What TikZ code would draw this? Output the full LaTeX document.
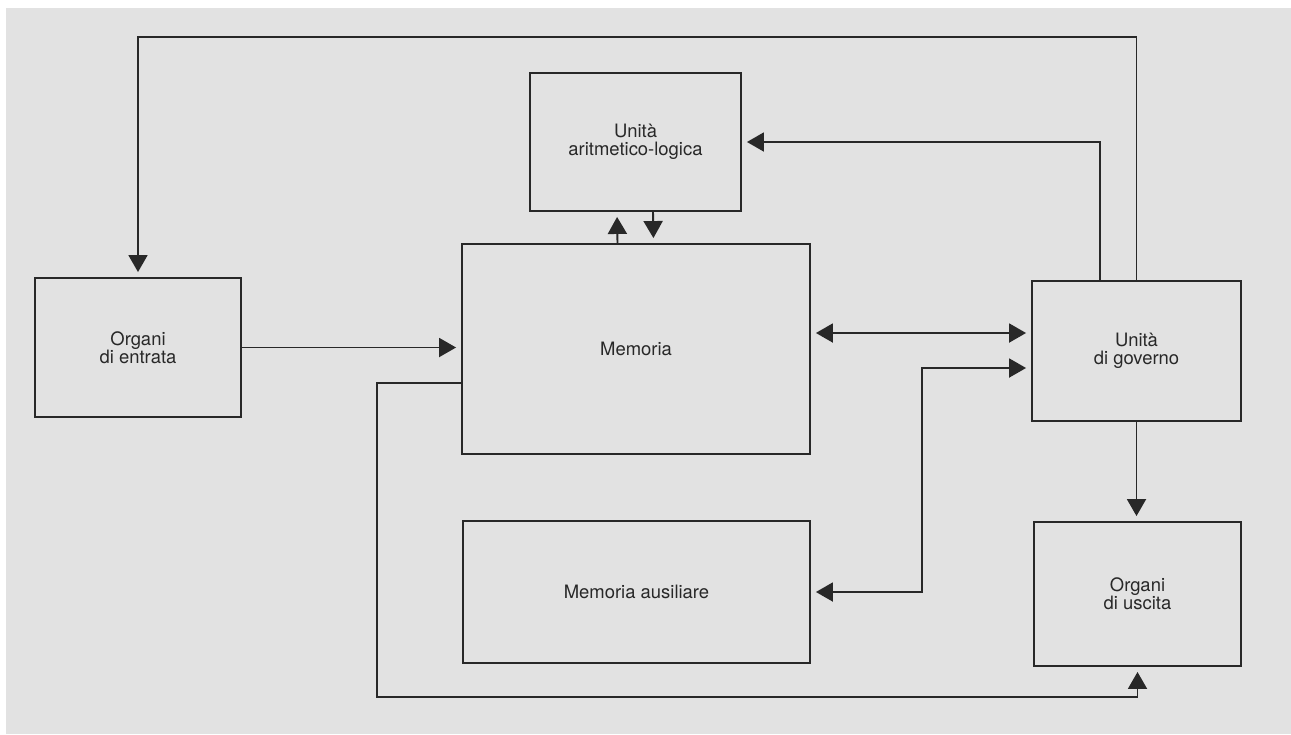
\documentclass[tikz,border=0pt]{standalone}
\usepackage{fontspec}
\setmainfont{TeX Gyre Heros}
\usepackage{tikz}
\usetikzlibrary{positioning,arrows.meta,calc}

\definecolor{paper}{RGB}{226,226,226}
\definecolor{ink}{RGB}{40,40,40}

\begin{document}
\begin{tikzpicture}[
        x=0.02cm, y=-0.02cm,
        box/.style={
          draw=ink,
          line width=1.1pt,
          align=center,
          font=\fontsize{10.5pt}{10pt}\selectfont,
          text=ink
        },
        arr/.style={draw=ink, line width=1.1pt,
          -{Triangle[length=0.34cm,width=0.38cm]},
          shorten >=0.1cm},
        arrr/.style={draw=ink, line width=1.1pt,
          {Triangle[length=0.34cm,width=0.38cm]}-{Triangle[length=0.34cm,width=0.38cm]},
          shorten >=0.1cm, shorten <=0.1cm}
      ]

      % sheet
      \fill[white] (0,0) rectangle (1291,734);
      \fill[paper] (6,8) rectangle (1291,734);
      \useasboundingbox (0,0) rectangle (1291,734);

      % Units: left column, centre column, right column
      \node[box,minimum width=4.12cm,minimum height=2.78cm] (inp) at (138,347.5) {Organi\\di entrata};
      \node[box,minimum width=4.22cm,minimum height=2.76cm] (alu) at (635.5,142) {Unità\\aritmetico-logica};
      \node[box,minimum width=6.96cm,minimum height=4.20cm] (mem) at (636,349) {Memoria};
      \node[box,minimum width=6.94cm,minimum height=2.84cm] (aux) at (636.5,592) {Memoria ausiliare};
      \node[box,minimum width=4.18cm,minimum height=2.80cm] (ctl) at (1136.5,351) {Unità\\di governo};
      \node[box,minimum width=4.14cm,minimum height=2.88cm] (out) at (1137.5,594) {Organi\\di uscita};

      % bends of the long lines
      \coordinate (topline) at (0,37);
      \coordinate (busA) at ([yshift=0.32cm]mem.east);
      \coordinate (busB) at ([yshift=-0.34cm]ctl.west);
      \coordinate (auxbend) at (922,0);
      \coordinate (memout) at ([yshift=-0.68cm]mem.west);
      \coordinate (bottom) at (377,697);

      % control -> input, control -> alu
      \draw[arr] (ctl.north) |- (inp.north |- topline) -- (inp.north);
      \draw[arr] ([xshift=-0.73cm]ctl.north) |- (alu.east);

      % alu <-> memory
      \draw[arr] ([xshift=-0.37cm]mem.north) -- ([xshift=-0.37cm]alu.south);
      \draw[arr] ([xshift=0.35cm]alu.south) -- ([xshift=0.35cm]mem.north);

      % input -> memory, memory <-> control, aux <-> control
      \draw[arr] (inp.east) -- (inp.east -| mem.west);
      \draw[arrr] (busA) -- (busA -| ctl.west);
      \draw[arrr] (aux.east) -- (aux.east -| auxbend) |- (busB);

      % control -> output, memory -> output
      \draw[arr] (ctl.south) -- (ctl.south |- out.north);
      \draw[arr] (memout) -| (bottom) -| (out.south);

\end{tikzpicture}
\end{document}
